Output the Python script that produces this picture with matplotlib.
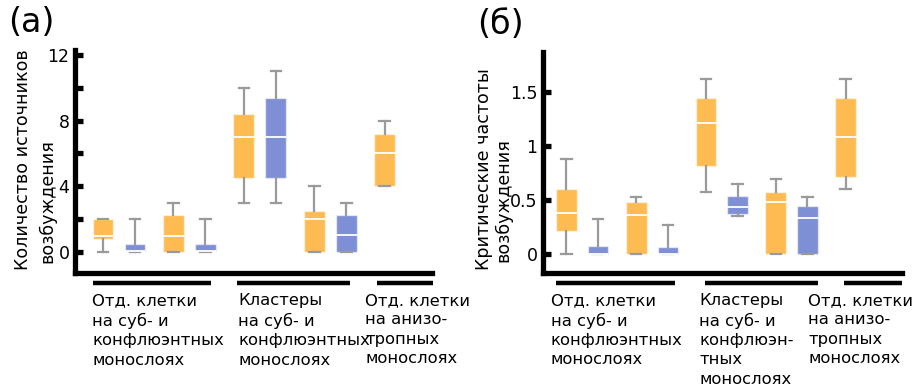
import numpy as np
import matplotlib.pyplot as plt
from matplotlib.ticker import FixedLocator

# Данные: (нижний ус, Q1, медиана, Q3, верхний ус)
stats_a = [
    (0, 0.8, 1.0, 2.0, 2.0),
    (0, 0.05, 0.05, 0.5, 2.0),
    (0, 0, 1.0, 2.25, 3.0),
    (0, 0.05, 0.05, 0.5, 2.0),
    (3, 4.5, 7.0, 8.4, 10.0),
    (3, 4.5, 7.0, 9.4, 11.0),
    (0, 0, 2.0, 2.5, 4.0),
    (0, 0, 1.05, 2.25, 3.0),
    (4, 4, 6.0, 7.2, 8.0),
]
stats_b = [
    (0, 0.21, 0.38, 0.60, 0.88),
    (0, 0, 0.0, 0.07, 0.32),
    (0, 0, 0.36, 0.48, 0.53),
    (0, 0, 0.0, 0.06, 0.27),
    (0.57, 0.81, 1.21, 1.44, 1.62),
    (0.35, 0.37, 0.43, 0.54, 0.65),
    (0, 0, 0.48, 0.57, 0.69),
    (0, 0, 0.33, 0.44, 0.53),
    (0.60, 0.71, 1.08, 1.44, 1.62),
]
box_kind = ['o', 'b', 'o', 'b', 'o', 'b', 'o', 'b', 'o']

group_labels_a = ["Отд. клетки\nна суб- и\nконфлюэнтных\nмонослоях",
                  "Кластеры\nна суб- и\nконфлюэнтных\nмонослоях",
                  "Отд. клетки\nна анизо-\nтропных\nмонослоях"]
group_labels_b = ["Отд. клетки\nна суб- и\nконфлюэнтных\nмонослоях",
                  "Кластеры\nна суб- и\nконфлюэн-\nтных\nмонослоях",
                  "Отд. клетки\nна анизо-\nтропных\nмонослоях"]

yticks_a = [0, 4, 8, 12]
yticks_a_minor = [2, 6, 10]
yticks_b = [0, 0.5, 1, 1.5]
yticklabels_b = ["0", "0.5", "1", "1.5"]

ylabel_a = ["Количество источников", "возбуждения"]
ylabel_b = ["Критические частоты", "возбуждения"]

colors = {'o': '#FDBB52', 'b': '#7F8FD6'}
positions = [0, 1, 2.2, 3.2, 4.4, 5.4, 6.6, 7.6, 8.8]

W, H = 914, 387
fig = plt.figure(figsize=(W / 100, H / 100), dpi=100)


def px_axes(x0, y_top, x1, y_bot):
    return fig.add_axes([x0 / W, 1 - y_bot / H, (x1 - x0) / W, (y_bot - y_top) / H])


def draw_panel(ax, stats, xlim, ylim, line_spans, text_xs, labels):
    bxp_stats = []
    for s in stats:
        bxp_stats.append(dict(whislo=s[0], q1=s[1], med=s[2], q3=s[3], whishi=s[4]))
    res = ax.bxp(bxp_stats, positions=positions, widths=0.65, patch_artist=True,
                 showfliers=False, capwidths=0.33,
                 whiskerprops=dict(color='#9A9A9A', linewidth=1.6),
                 capprops=dict(color='#9A9A9A', linewidth=1.6),
                 medianprops=dict(color='white', linewidth=1.3),
                 boxprops=dict(linewidth=1.0))
    for patch, k in zip(res['boxes'], box_kind):
        patch.set_facecolor(colors[k])
        patch.set_edgecolor((1, 1, 1, 0.55))
    ax.set_xlim(*xlim)
    ax.set_ylim(*ylim)
    for side in ['top', 'right']:
        ax.spines[side].set_visible(False)
    for side in ['left', 'bottom']:
        ax.spines[side].set_linewidth(3.8)
    ax.set_xticks([])
    ax.tick_params(axis='y', which='both', direction='in', length=6, width=3.8,
                   labelsize=12.5, pad=4)
    tr = ax.get_xaxis_transform()
    for (a, b), tx, lab in zip(line_spans, text_xs, labels):
        ax.plot([a, b], [-0.045, -0.045], color='black', lw=3.2, transform=tr,
                clip_on=False, solid_capstyle='butt')
        ax.text(tx, -0.09, lab, transform=tr, ha='left', va='top', fontsize=11.8,
                linespacing=1.36)


ax1 = px_axes(75, 50, 432, 273)
draw_panel(ax1, stats_a, (-0.875, 10.28), (-1.28, 12.3),
           [(-0.32, 3.37), (4.19, 7.72), (8.56, 10.3)],
           [-0.34, 4.22, 8.2], group_labels_a)
ax1.yaxis.set_major_locator(FixedLocator(yticks_a))
ax1.yaxis.set_minor_locator(FixedLocator(yticks_a_minor))

ax2 = px_axes(543, 52, 902, 273)
draw_panel(ax2, stats_b, (-0.74, 10.58), (-0.176, 1.867),
           [(-0.33, 3.42), (4.37, 7.94), (8.75, 10.58)],
           [-0.49, 4.18, 7.62], group_labels_b)
ax2.set_yticks(yticks_b)
ax2.set_yticklabels(yticklabels_b)

# Подписи осей Y
fig.text(23 / W, 1 - 270 / H, ylabel_a[0], rotation=90, ha='center', va='bottom', fontsize=12.6)
fig.text(47 / W, 1 - 263 / H, ylabel_a[1], rotation=90, ha='center', va='bottom', fontsize=12.6)
fig.text(484 / W, 1 - 270 / H, ylabel_b[0], rotation=90, ha='center', va='bottom', fontsize=12.6)
fig.text(503 / W, 1 - 262 / H, ylabel_b[1], rotation=90, ha='center', va='bottom', fontsize=12.6)

# Буквы панелей
fig.text(8 / W, 1 - 6 / H, "(а)", ha='left', va='top', fontsize=24)
fig.text(477 / W, 1 - 8 / H, "(б)", ha='left', va='top', fontsize=24)

fig.savefig("out.png", dpi=100)
